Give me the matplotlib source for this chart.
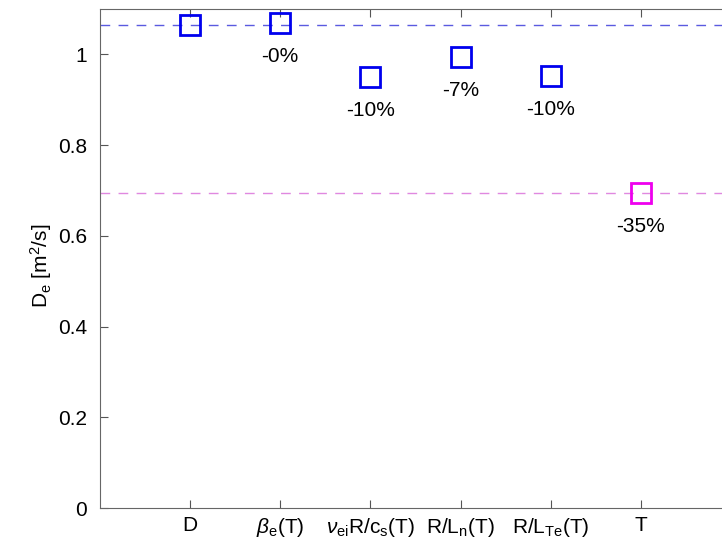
import numpy as np
import matplotlib.pyplot as plt

plt.rcParams['font.family'] = ['Liberation Sans', 'DejaVu Sans']
plt.rcParams['mathtext.fontset'] = 'custom'
plt.rcParams['mathtext.rm'] = 'Liberation Sans'
plt.rcParams['mathtext.it'] = 'Liberation Sans:italic'

# diffusivity for each case
cases = ['D', r'$\beta_{\rm e}$(T)', r'$\nu_{\rm ei}$R/c$_{\rm s}$(T)',
         r'R/L$_{\rm n}$(T)', r'R/L$_{\rm Te}$(T)', 'T']
De = [1.064, 1.069, 0.951, 0.994, 0.953, 0.695]
change = ['', '-0%', '-10%', '-7%', '-10%', '-35%']
colors = ['#0000ee', '#0000ee', '#0000ee', '#0000ee', '#0000ee', '#ee00ee']

fig = plt.figure(figsize=(7.22, 5.48), dpi=100)
ax = fig.add_axes([99.8 / 722, 40 / 548, 631.4 / 722, 499 / 548])

x = np.arange(1, len(cases) + 1)

ax.axhline(De[0], color='#5a5ae0', lw=1, dashes=(7, 6))
ax.axhline(De[-1], color='#e088e0', lw=1, dashes=(7, 6))

for i in range(len(cases)):
    ax.plot(x[i], De[i], 's', ms=15, mfc='none', mec=colors[i], mew=2)
    if change[i]:
        ax.text(x[i], De[i] - 0.074, change[i], ha='center', va='center', fontsize=15)

ax.set_xlim(0, 7)
ax.set_ylim(0, 1.1)
ax.set_xticks(x)
ax.set_xticklabels(cases, fontsize=15)
ax.set_yticks([0, 0.2, 0.4, 0.6, 0.8, 1])
ax.set_yticklabels(['0', '0.2', '0.4', '0.6', '0.8', '1'], fontsize=15)
ax.set_ylabel(r'D$_{\rm e}$ [m$^2$/s]', fontsize=15)
ax.yaxis.set_label_coords(-0.072, 0.485)

ax.tick_params(direction='in', length=6, top=True, right=True, color='#555555')
ax.tick_params(axis='y', pad=9)
ax.tick_params(axis='x', pad=6)
for s in ax.spines.values():
    s.set_color('#666666')
    s.set_linewidth(0.8)

fig.savefig('out.png', dpi=100)
